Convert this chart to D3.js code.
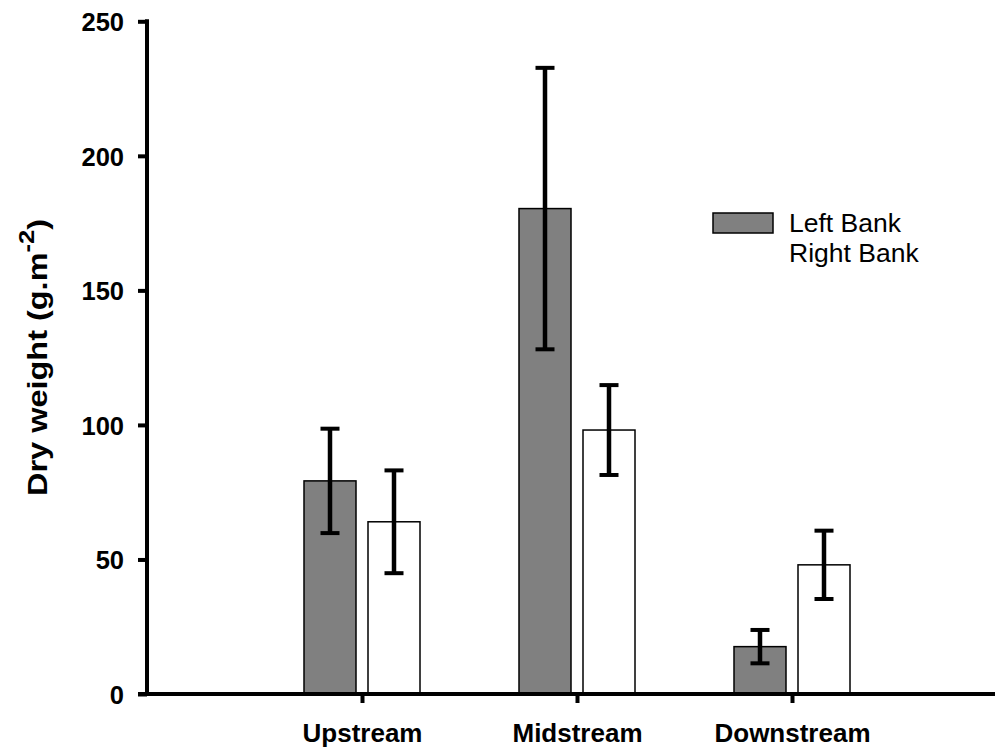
<!DOCTYPE html>
<html>
<head>
<meta charset="utf-8">
<script src="https://cdn.jsdelivr.net/npm/d3@7"></script>
<style>
    body { margin: 0; background: #fff; }
    svg { display: block; font-family: "Liberation Sans", Arial, sans-serif; }
</style>
</head>
<body>
<div id="content"></div>
<script>
// ======= data =======
var sites = ["Upstream", "Midstream", "Downstream"];
var seriesNames = ["Left Bank", "Right Bank"];
var leftMeans = [79.2, 180.4, 17.6];
var leftErrs = [19.4, 52.3, 6.2];
var rightMeans = [64.0, 98.1, 48.0];
var rightErrs = [19.1, 16.7, 12.7];
var yTicks = [0, 50, 100, 150, 200, 250];

// ======= formatting =======
var width = 995;
var height = 749;
var fills = ["#808080", "#ffffff"];
var barWidth = 52;
var barGap = 6;

// ======= build rows =======
var rows = [];
sites.forEach(function(site, i) {
    rows.push({ site: site, series: 0, mean: leftMeans[i], err: leftErrs[i] });
    rows.push({ site: site, series: 1, mean: rightMeans[i], err: rightErrs[i] });
});

// ======= scales =======
var xScale = d3.scalePoint()
    .domain(sites)
    .range([147, 1007])
    .padding(1);
var yScale = d3.scaleLinear()
    .domain([0, 250])
    .range([694, 21.3]);

function barX(d) {
    var c = xScale(d.site);
    return d.series === 0 ? c - barGap - barWidth : c + barGap;
}

// ======= elements =======
var svg = d3.select("#content")
    .append("svg")
        .attr("width", width)
        .attr("height", height);

// ======= bars =======
svg.append("g")
    .selectAll("rect")
    .data(rows)
    .enter()
    .append("rect")
        .attr("x", barX)
        .attr("width", barWidth)
        .attr("y", function(d) { return yScale(d.mean); })
        .attr("height", function(d) { return yScale(0) - yScale(d.mean); })
        .style("fill", function(d) { return fills[d.series]; })
        .style("stroke", "#000")
        .style("stroke-width", 1.5);

// ======= error bars =======
var errG = svg.append("g")
    .selectAll("g")
    .data(rows)
    .enter()
    .append("g")
        .style("stroke", "#000")
        .style("stroke-width", 4.5);
errG.append("line")
    .attr("x1", function(d) { return barX(d) + barWidth / 2; })
    .attr("x2", function(d) { return barX(d) + barWidth / 2; })
    .attr("y1", function(d) { return yScale(d.mean + d.err); })
    .attr("y2", function(d) { return yScale(d.mean - d.err); });
[1, -1].forEach(function(sign) {
    errG.append("line")
        .style("stroke-width", 4)
        .attr("x1", function(d) { return barX(d) + barWidth / 2 - 9.5; })
        .attr("x2", function(d) { return barX(d) + barWidth / 2 + 9.5; })
        .attr("y1", function(d) { return yScale(d.mean + sign * d.err); })
        .attr("y2", function(d) { return yScale(d.mean + sign * d.err); });
});

// ======= y axis =======
var yAxis = svg.append("g")
    .attr("transform", "translate(147,0)")
    .call(d3.axisLeft(yScale)
        .tickValues(yTicks)
        .tickSize(9)
        .tickPadding(14));
yAxis.select(".domain").remove();
yAxis.selectAll(".tick line")
    .style("stroke", "#000")
    .style("stroke-width", 4)
    .attr("x2", -9);
yAxis.selectAll("text")
    .style("font-size", "25.5px")
    .style("font-weight", "bold")
    .style("fill", "#000")
    .attr("dy", "0.36em");
svg.append("line")
    .attr("x1", 147).attr("x2", 147)
    .attr("y1", yScale(250) - 2).attr("y2", yScale(0))
    .style("stroke", "#000")
    .style("stroke-width", 4);

// ======= x axis =======
var xAxis = svg.append("g")
    .attr("transform", "translate(0," + yScale(0) + ")")
    .call(d3.axisBottom(xScale)
        .tickSize(9)
        .tickPadding(30));
xAxis.select(".domain").remove();
xAxis.selectAll(".tick line")
    .style("stroke", "#000")
    .style("stroke-width", 4);
xAxis.selectAll("text")
    .style("font-size", "26px")
    .style("font-weight", "bold")
    .style("fill", "#000")
    .attr("dy", "0.71em")
    .attr("y", 30);
svg.append("line")
    .attr("x1", 138).attr("x2", width)
    .attr("y1", yScale(0)).attr("y2", yScale(0))
    .style("stroke", "#000")
    .style("stroke-width", 4);

// ======= y title =======
var title = svg.append("text")
    .attr("transform", "translate(46.5,357.5) rotate(-90) scale(1.16,1)")
    .style("text-anchor", "middle")
    .style("font-size", "28px")
    .style("font-weight", "bold")
    .style("fill", "#000");
title.append("tspan").text("Dry weight (g.m");
title.append("tspan")
    .attr("dy", -13)
    .style("font-size", "22px")
    .text("-2");
title.append("tspan")
    .attr("dy", 13)
    .text(")");

// ======= legend =======
var legend = svg.append("g")
    .selectAll("g")
    .data(seriesNames)
    .enter()
    .append("g")
        .attr("transform", function(d, i) { return "translate(713," + (213 + i * 30) + ")"; });
legend.append("rect")
    .attr("width", 60)
    .attr("height", 20)
    .style("fill", function(d, i) { return fills[i]; })
    .style("stroke", function(d, i) { return i === 0 ? "#000" : "none"; })
    .style("stroke-width", 1.5);
legend.append("text")
    .attr("x", 76)
    .attr("y", 19)
    .style("font-size", "26.5px")
    .style("fill", "#000")
    .text(function(d) { return d; });
</script>
</body>
</html>
